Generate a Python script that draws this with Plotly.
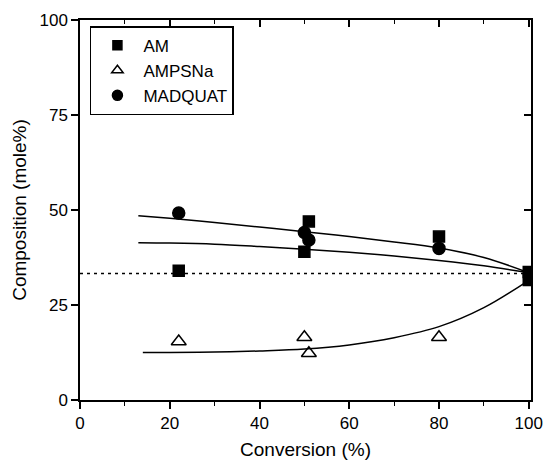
import plotly.graph_objects as go

# Data
am_x = [22, 50, 51, 80, 100, 100]
am_y = [34, 39, 47, 43, 33.7, 31.6]
ampsna_x = [22, 50, 51, 80]
ampsna_y = [15.4, 16.5, 12.3, 16.5]
madquat_x = [22, 50, 51, 80]
madquat_y = [49.2, 44.1, 42.1, 39.9]

# Fitted curves
fit1_x = [13, 20, 30, 40, 50, 60, 70, 80, 90, 100]
fit1_y = [48.5, 47.8, 46.7, 45.5, 44.3, 43.0, 41.6, 40.0, 37.5, 33.5]
fit2_x = [13, 20, 30, 40, 50, 60, 70, 80, 90, 100]
fit2_y = [41.4, 41.3, 41.0, 40.4, 39.7, 38.9, 37.9, 36.7, 35.3, 33.5]
fit3_x = [14, 20, 30, 40, 50, 60, 70, 80, 90, 100]
fit3_y = [12.5, 12.5, 12.6, 12.9, 13.4, 14.5, 16.4, 19.3, 24.3, 31.5]

ref_x = [0, 100]
ref_y = [33.3, 33.3]

series_names = ["AM", "AMPSNa", "MADQUAT"]

FONT = "Liberation Sans, Arial, Helvetica, sans-serif"

fig = go.Figure()
line_style = dict(color="black", width=1.5, shape="spline")
for fx, fy in [(fit1_x, fit1_y), (fit2_x, fit2_y), (fit3_x, fit3_y)]:
    fig.add_trace(go.Scatter(x=fx, y=fy, mode="lines", line=line_style,
                             showlegend=False, hoverinfo="skip"))
fig.add_trace(go.Scatter(x=ref_x, y=ref_y, mode="lines",
                         line=dict(color="black", width=1.5, dash="3px,4px"),
                         showlegend=False, hoverinfo="skip"))

symbols = ["square", "triangle-up-open", "circle"]
sizes = [11, 13, 12]
legend_sizes = [9, 10, 10]
for name, xs, ys, sym, sz, lsz in zip(series_names,
                                      [am_x, ampsna_x, madquat_x],
                                      [am_y, ampsna_y, madquat_y],
                                      symbols, sizes, legend_sizes):
    fig.add_trace(go.Scatter(x=xs, y=ys, mode="markers", name=name, showlegend=False,
                             marker=dict(symbol=sym, size=sz, color="black",
                                         line=dict(width=1.5, color="black"))))
    # legend entry with the smaller legend symbol
    fig.add_trace(go.Scatter(x=[None], y=[None], mode="markers", name=name,
                             marker=dict(symbol=sym, size=lsz, color="black",
                                         line=dict(width=1.5, color="black"))))

# dummy trace for mirror axes
fig.add_trace(go.Scatter(x=[None], y=[None], xaxis="x2", yaxis="y2",
                         showlegend=False, hoverinfo="skip"))

fig.update_layout(
    width=545, height=460,
    margin=dict(l=80, r=14, t=20, b=60),
    paper_bgcolor="white", plot_bgcolor="white",
    font=dict(family=FONT, size=17, color="black"),
    showlegend=True,
    legend=dict(x=0.022, y=0.984, xanchor="left", yanchor="top",
                bordercolor="black", borderwidth=1.5, bgcolor="white",
                font=dict(size=17, family=FONT), itemsizing="trace",
                itemwidth=42),
    xaxis=dict(range=[0, 100.5], tickvals=[0, 20, 40, 60, 80, 100],
               ticks="outside", ticklen=7, tickwidth=1.5, tickcolor="black",
               showline=True, linecolor="black", linewidth=1.5,
               showgrid=False, zeroline=False, automargin=False,
               minor=dict(tickvals=[10, 30, 50, 70, 90], ticks="outside",
                          ticklen=4, tickwidth=1.2, tickcolor="black"),
               title=dict(text="Conversion (%)", font=dict(size=19), standoff=12),
               tickfont=dict(size=17)),
    yaxis=dict(range=[0, 100], tickvals=[0, 25, 50, 75, 100],
               ticks="outside", ticklen=7, tickwidth=1.5, tickcolor="black",
               showline=True, linecolor="black", linewidth=1.5,
               showgrid=False, zeroline=False, automargin=False,
               title=dict(text="Composition (mole%)", font=dict(size=19), standoff=8),
               tickfont=dict(size=17)),
    xaxis2=dict(range=[0, 100.5], overlaying="x", side="top",
                tickvals=[0, 20, 40, 60, 80, 100], ticks="inside", ticklen=7,
                tickwidth=1.5, tickcolor="black", showticklabels=False,
                showline=True, linecolor="black", linewidth=1.5,
                showgrid=False, zeroline=False, automargin=False,
                minor=dict(tickvals=[10, 30, 50, 70, 90], ticks="inside",
                           ticklen=4, tickwidth=1.2, tickcolor="black")),
    yaxis2=dict(range=[0, 100], overlaying="y", side="right",
                tickvals=[0, 25, 50, 75, 100], ticks="inside", ticklen=7,
                tickwidth=1.5, tickcolor="black", showticklabels=False,
                showline=True, linecolor="black", linewidth=1.5,
                showgrid=False, zeroline=False, automargin=False),
)

fig.write_html("out.html")
